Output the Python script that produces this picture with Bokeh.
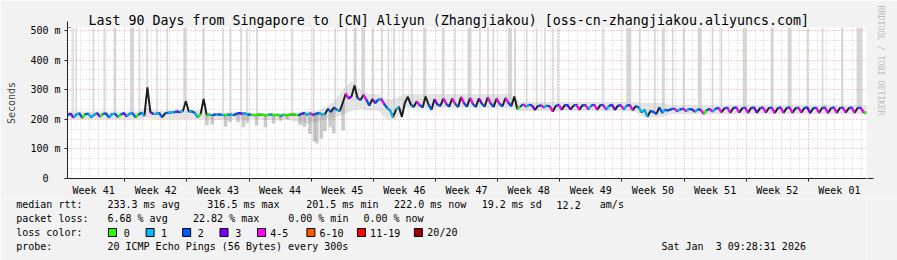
import numpy as np
from bokeh.plotting import figure
from bokeh.layouts import column
from bokeh.models import Range1d, FixedTicker, Arrow, NormalHead, Title
from bokeh.core.properties import value
from bokeh.embed import file_html
from bokeh.resources import INLINE

# ---------------- data ----------------
TITLE = "Last 90 Days from Singapore to [CN] Aliyun (Zhangjiakou) [oss-cn-zhangjiakou.aliyuncs.com]"
WATERMARK = "RRDTOOL / TOBI OETIKER"
DAYS = 90
SAMPLES_PER_DAY = 3
WEEK_LABELS = ["Week 41", "Week 42", "Week 43", "Week 44", "Week 45", "Week 46", "Week 47",
               "Week 48", "Week 49", "Week 50", "Week 51", "Week 52", "Week 01"]
FIRST_WEEK_START = 6.445  # days after the window start where week 42 begins
Y_TICKS = [0, 100, 200, 300, 400, 500]
Y_TICK_LABELS = ["0\u00a0\u00a0", "100 m", "200 m", "300 m", "400 m", "500 m"]

# median rtt in ms, one value every 8 hours (3 per day) from the window start
MEDIAN_MS = [
    214, 219, 206, 216, 220, 205, 217, 219, 207, 215, 221, 209, 218, 220, 206,
    217, 219, 208, 216, 221, 210, 219, 220, 207, 216, 222, 212, 308, 224, 218,
    219, 221, 207, 220, 222, 223, 224, 226, 224, 228, 261, 226, 227, 222, 207,
    218, 269, 216, 215, 214, 216, 216, 215, 214, 215, 216, 214, 218, 221, 219,
    220, 216, 215, 214, 215, 216, 215, 214, 215, 216, 214, 215, 211, 215, 214,
    215, 216, 215, 214, 218, 221, 216, 220, 215, 219, 221, 217, 218, 235, 225,
    240, 232, 228, 255, 286, 270, 278, 314, 272, 265, 282, 266, 246, 268, 255,
    266, 268, 252, 238, 230, 207, 232, 242, 208, 255, 276, 250, 242, 260, 248,
    240, 277, 250, 232, 268, 250, 245, 270, 252, 243, 270, 252, 242, 275, 254,
    243, 272, 252, 242, 270, 253, 243, 274, 254, 242, 270, 252, 244, 272, 255,
    245, 277, 235, 243, 250, 243, 249, 246, 232, 245, 247, 240, 246, 243, 226,
    245, 248, 232, 247, 248, 233, 246, 249, 232, 247, 248, 234, 246, 249, 232,
    247, 248, 233, 245, 249, 232, 246, 247, 234, 246, 248, 231, 244, 240, 224,
    232, 209, 228, 225, 218, 240, 222, 232, 230, 234, 236, 228, 233, 236, 228,
    235, 234, 226, 233, 232, 218, 230, 235, 226, 236, 238, 224, 237, 239, 222,
    238, 240, 223, 237, 239, 222, 238, 240, 222, 237, 240, 223, 238, 239, 221,
    237, 240, 222, 238, 240, 222, 237, 239, 223, 238, 240, 221, 237, 239, 222,
    238, 240, 221, 237, 240, 222, 238, 239, 223, 237, 240, 222, 238, 239, 224,
    222,
]

# loss colour class of each sample (index into LOSS_LABELS)
LOSS_CLASS = [
    2, 3, 1, 1, 2, 0, 2, 1, 1, 1, 3, 0, 2, 2, 1,
    1, 2, 0, 2, 3, 1, 1, 2, 0, 2, 1, 1, 2, 3, 1,
    1, 2, 0, 2, 1, 1, 2, 3, 1, 2, 4, 1, 2, 1, 0,
    1, 4, 0, 1, 2, 1, 2, 1, 0, 1, 1, 2, 2, 3, 1,
    1, 2, 0, 0, 0, 0, 0, 0, 1, 0, 0, 0, 1, 0, 0,
    0, 0, 0, 2, 3, 1, 1, 4, 2, 2, 1, 1, 1, 2, 1,
    2, 1, 0, 2, 4, 3, 2, 4, 2, 1, 4, 2, 1, 3, 2,
    1, 4, 2, 1, 1, 0, 1, 2, 1, 2, 4, 2, 1, 4, 2,
    1, 4, 2, 1, 3, 2, 1, 4, 2, 0, 4, 2, 1, 4, 2,
    1, 4, 2, 1, 3, 2, 1, 4, 2, 1, 4, 2, 0, 4, 2,
    1, 4, 0, 2, 4, 1, 2, 3, 0, 2, 4, 1, 2, 4, 1,
    2, 4, 1, 2, 3, 1, 2, 4, 1, 2, 4, 1, 2, 4, 0,
    2, 4, 1, 2, 3, 1, 2, 4, 1, 2, 4, 1, 2, 1, 1,
    1, 1, 2, 2, 0, 2, 1, 2, 2, 2, 4, 1, 2, 4, 1,
    2, 3, 1, 2, 4, 0, 2, 4, 1, 2, 4, 1, 2, 4, 0,
    2, 4, 1, 2, 4, 1, 2, 3, 0, 2, 4, 1, 2, 4, 1,
    2, 4, 0, 2, 4, 1, 2, 4, 1, 2, 3, 0, 2, 4, 1,
    2, 4, 1, 2, 4, 0, 2, 4, 1, 2, 4, 1, 2, 4, 0,
    1,
]

# smoke (spread of the 20 pings) per day, ms
SMOKE_DAY = list(range(91))
SMOKE_LO = [
    200, 200, 200, 200, 200, 200, 200, 200, 200, 205, 200, 200, 200, 200, 200,
    200, 200, 198, 200, 202, 200, 203, 200, 198, 200, 198, 190, 185, 190, 200,
    205, 215, 230, 235, 230, 230, 200, 200, 238, 238, 238, 238, 238, 238, 238,
    238, 238, 238, 238, 238, 238, 228, 228, 228, 228, 228, 228, 228, 228, 228,
    228, 228, 228, 228, 225, 205, 205, 208, 218, 218, 218, 218, 218, 218, 218,
    218, 218, 218, 218, 218, 218, 218, 218, 218, 218, 218, 218, 218, 218, 218,
    218,
]
SMOKE_HI = [
    226, 226, 226, 226, 226, 226, 226, 226, 226, 240, 228, 228, 232, 235, 230,
    232, 222, 222, 222, 226, 224, 222, 220, 222, 220, 222, 225, 228, 228, 240,
    260, 300, 330, 300, 285, 285, 265, 270, 285, 285, 285, 285, 285, 285, 285,
    285, 285, 285, 285, 285, 285, 258, 258, 258, 258, 258, 258, 258, 258, 258,
    258, 258, 258, 258, 258, 255, 255, 255, 248, 248, 248, 248, 248, 248, 248,
    248, 248, 248, 248, 248, 248, 248, 248, 248, 248, 248, 248, 248, 248, 248,
    248,
]

# fast-ping streaks below the median (day, lowest ms) in weeks 43-45
STREAK_DAYS = [15.7, 16.3, 17.8, 18.3, 19.2, 19.8, 20.25, 21.3, 22.3, 23.2, 24.0, 24.75,
               26.2, 26.7, 27.3, 27.8, 28.1, 28.6, 29.0, 29.6, 30.0, 31.05]
STREAK_LOW = [179, 182, 175, 190, 190, 173, 186, 179, 173, 186, 195, 200,
              180, 175, 150, 125, 118, 135, 160, 173, 152, 162]

# times (days) where the slowest pings reached the top of the graph, and their duration (days)
SPIKE_DAYS = [0.64, 0.98, 2.92, 4.16, 5.34, 7.26, 8.10, 8.97, 10.09, 11.22, 13.22, 15.30,
              17.52, 18.34, 19.57, 20.22, 21.34, 25.28, 27.71, 30.15, 31.39, 32.40, 33.30,
              34.37, 35.40, 36.15, 36.79, 37.80, 38.78, 40.22, 42.30, 43.65, 45.28, 46.46,
              47.36, 47.96, 49.84, 50.40, 51.72, 52.84, 53.78, 54.68, 55.24, 60.30, 63.22,
              64.46, 66.15, 67.11, 68.17, 69.41, 71.21, 72.67, 73.65, 76.27, 79.37, 81.34,
              83.36, 85.05, 87.24, 89.21]
SPIKE_WIDTH = [0.17, 0.17, 0.17, 0.22, 0.28, 0.45, 0.2, 0.2, 0.17, 0.17, 0.34, 0.22,
               0.17, 0.17, 0.17, 0.17, 0.17, 0.17, 0.2, 0.17, 0.22, 0.34, 0.4,
               0.22, 0.17, 0.17, 0.2, 0.17, 0.2, 0.34, 0.28, 0.17, 0.45, 0.17,
               0.17, 0.17, 0.45, 0.2, 0.17, 0.17, 0.17, 0.17, 0.17, 0.17, 0.56,
               0.2, 0.2, 0.34, 0.17, 0.22, 0.45, 0.17, 0.2, 0.45, 0.34, 0.45,
               0.2, 0.17, 0.22, 0.67]

LOSS_LABELS = ["0", "1", "2", "3", "4-5", "6-10", "11-19", "20/20"]
LOSS_COLORS = ["#26ff00", "#00b8ff", "#0059ff", "#7e00ff", "#ff00ff", "#ff5500", "#ff0000", "#a10000"]

RTT_AVG, RTT_MAX, RTT_MIN, RTT_NOW, RTT_SD, RTT_AMS = 233.3, 316.5, 201.5, 222.0, 19.2, 12.2
LOSS_AVG, LOSS_MAX, LOSS_MIN, LOSS_NOW = 6.68, 22.82, 0.00, 0.00
PROBE = "20 ICMP Echo Pings (56 Bytes) every 300s"
STAMP = "Sat Jan  3 09:28:31 2026"
ROW_NAMES = ["median rtt:", "packet loss:", "loss color:", "probe:"]

# ---------------- layout ----------------
W, H = 897, 260
PLOT_H = 198
LEFT, RIGHT, TOP, BOTTOM = 67, 30, 27, 20
Y_MAX = 510
FRAME_W = W - LEFT - RIGHT
FRAME_H = PLOT_H - TOP - BOTTOM
XPX = FRAME_W / DAYS
YPX = FRAME_H / Y_MAX
AXIS_Y = PLOT_H - BOTTOM
MONO = "DejaVu Sans Mono"
CHAR_W = 6.02           # advance of DejaVu Sans Mono at 10px
TEXT_X0 = 16            # left edge of the legend text block
BACK = "#F2F2F2"
NBSP = "\u00a0"


def sy(y):
    return (AXIS_Y - y) / YPX


p = figure(width=W, height=PLOT_H, x_range=Range1d(0, DAYS), y_range=Range1d(0, Y_MAX),
           output_backend="svg", toolbar_location=None,
           min_border_left=LEFT, min_border_right=RIGHT, min_border_top=TOP, min_border_bottom=BOTTOM,
           background_fill_color="white", border_fill_color=BACK, outline_line_color=None)
p.title = Title(text=TITLE, align="left", offset=88 - LEFT, standoff=0, text_font=MONO,
                text_font_size="13.3px", text_font_style="normal", text_color="black")
p.add_layout(Title(text=WATERMARK, align="left", standoff=19, offset=-22, text_font=MONO,
                   text_font_size="8.3px", text_font_style="normal", text_color="#BDBDBD"), "right")

week_bounds = [FIRST_WEEK_START + 7 * k for k in range(12)]
week_centers = [FIRST_WEEK_START - 3.5 + 7 * k for k in range(len(WEEK_LABELS))]
day_lines = [FIRST_WEEK_START - 6 + k for k in range(DAYS) if (k % 7) != 6]
h_minor = [100 * k / 3 for k in range(1, 16) if k % 3 != 0]

# grids
xg = p.xgrid[0]
xg.ticker = FixedTicker(ticks=week_bounds, minor_ticks=day_lines)
yg = p.ygrid[0]
yg.ticker = FixedTicker(ticks=Y_TICKS, minor_ticks=h_minor)
for g in (xg, yg):
    g.grid_line_color = "#F09A9A"
    g.grid_line_dash = "1 2"
    g.minor_grid_line_color = "#CFCFCF"
    g.minor_grid_line_dash = "1 2"

# axes
xa = p.xaxis[0]
xa.ticker = FixedTicker(ticks=week_centers, minor_ticks=week_bounds)
xa.major_label_overrides = {c: lab for c, lab in zip(week_centers, WEEK_LABELS)}
xa.major_tick_out = 0
xa.major_tick_in = 0
xa.minor_tick_out = 3
xa.minor_tick_in = 0
xa.minor_tick_line_color = "#222222"
xa.major_label_standoff = 3
ya = p.yaxis[0]
ya.ticker = FixedTicker(ticks=Y_TICKS)
ya.major_label_overrides = {t: lab for t, lab in zip(Y_TICKS, Y_TICK_LABELS)}
ya.major_tick_out = 3
ya.major_tick_in = 0
ya.major_label_standoff = 4
ya.axis_label = "Seconds"
ya.axis_label_text_font = MONO
ya.axis_label_text_font_size = "10px"
ya.axis_label_text_font_style = "normal"
ya.axis_label_standoff = 10
for ax in (xa, ya):
    ax.axis_line_color = "#222222"
    ax.major_tick_line_color = "#222222"
    ax.major_label_text_font = MONO
    ax.major_label_text_font_size = "10px"
    ax.major_label_text_color = "black"

# smoke
p.varea(x=SMOKE_DAY, y1=SMOKE_LO, y2=SMOKE_HI, fill_color="#a8a8a8", fill_alpha=0.3)

t = np.arange(len(MEDIAN_MS)) / SAMPLES_PER_DAY
med = np.array(MEDIAN_MS, dtype=float)

# darker smoke streaks below the median
streak_top = np.interp(STREAK_DAYS, t, med)
p.vbar(x=STREAK_DAYS, width=0.4, bottom=STREAK_LOW, top=streak_top,
       fill_color="#7a7a7a", fill_alpha=0.38, line_color=None)

# slow pings reaching the top
spike_bottom = np.interp(SPIKE_DAYS, t, med)
p.vbar(x=SPIKE_DAYS, width=SPIKE_WIDTH, bottom=spike_bottom, top=Y_MAX,
       fill_color="#c6c6c6", fill_alpha=0.7, line_color=None)

# median line: dark underneath, loss-coloured on top
p.line(t, med, line_color="#1e1e1e", line_width=2)
dy = np.diff(med)
keep = ~((dy > 12) | (np.abs(dy) > 25))
cls = np.array(LOSS_CLASS[:-1])
seg_colors = [LOSS_COLORS[c] for c in cls[keep]]
p.segment(x0=t[:-1][keep], y0=med[:-1][keep], x1=t[1:][keep], y1=med[1:][keep],
          line_color=seg_colors, line_width=2)

# arrows at the axis ends
p.add_layout(Arrow(end=NormalHead(size=6, fill_color="#7F3131", line_color="#7F3131"),
                   x_start=0, y_start=Y_MAX - 5, x_end=0, y_end=sy(21),
                   line_color="#222222", line_width=1))
p.add_layout(Arrow(end=NormalHead(size=6, fill_color="#7F3131", line_color="#7F3131"),
                   x_start=DAYS - 0.2, y_start=0, x_end=(874 - LEFT) / XPX, y_end=0,
                   line_color="#222222", line_width=1))

# ---------------- statistics / legend strip (pixel coordinates) ----------------
LEG_H = H - PLOT_H
ROW_Y = [204, 218, 232, 246]
q = figure(width=W, height=LEG_H, x_range=Range1d(LEFT, W - RIGHT), y_range=Range1d(H, PLOT_H),
           output_backend="svg", toolbar_location=None, x_axis_location=None, y_axis_location="left",
           min_border_left=LEFT, min_border_right=RIGHT, min_border_top=0, min_border_bottom=0,
           background_fill_color=BACK, border_fill_color=BACK, outline_line_color=None)
q.grid.visible = False
qa = q.yaxis[0]
qa.ticker = FixedTicker(ticks=ROW_Y)
width_chars = max(len(s) for s in ROW_NAMES)
qa.major_label_overrides = {y: (s + NBSP * (width_chars - len(s))).replace(" ", NBSP)
                            for y, s in zip(ROW_Y, ROW_NAMES)}
qa.axis_line_color = None
qa.major_tick_line_color = None
qa.minor_tick_line_color = None
qa.major_tick_out = 0
qa.major_tick_in = 0
qa.major_label_standoff = int(round(LEFT - (TEXT_X0 + width_chars * CHAR_W)))
qa.major_label_text_font = MONO
qa.major_label_text_font_size = "10px"
qa.major_label_text_color = "black"

lab_x = [123.3, 160.7, 197.3, 235, 270, 319.3, 370, 427.3]
box_x = [108, 145.7, 182.3, 219.7, 257.3, 306.7, 357.3, 414.3]
parts = [
    (f"{RTT_AVG:.1f} ms avg", 107, ROW_Y[0]), (f"{RTT_MAX:.1f} ms max", 207, ROW_Y[0]),
    (f"{RTT_MIN:.1f} ms min", 306, ROW_Y[0]), (f"{RTT_NOW:.1f} ms now", 394, ROW_Y[0]),
    (f"{RTT_SD:.1f} ms sd", 481.7, ROW_Y[0]), (f"{RTT_AMS:.1f}", 556.7, ROW_Y[0]), ("am/s", 600, ROW_Y[0]),
    (f"{LOSS_AVG:.2f} % avg", 107, ROW_Y[1]), (f"{LOSS_MAX:.2f} % max", 192.7, ROW_Y[1]),
    (f"{LOSS_MIN:.2f} % min", 288, ROW_Y[1]), (f"{LOSS_NOW:.2f} % now", 363.3, ROW_Y[1]),
    (PROBE, 107, ROW_Y[3]), (STAMP.replace(" ", NBSP), 661.7, ROW_Y[3]),
] + [(lab, x, ROW_Y[2]) for lab, x in zip(LOSS_LABELS, lab_x)]
q.text(x=[a[1] for a in parts], y=[a[2] for a in parts], text=[a[0] for a in parts],
       text_font=value(MONO), text_font_size=value("10px"),
       text_baseline="middle", text_align="left", text_color="black")
q.quad(left=box_x, right=[b + 8 for b in box_x], top=[ROW_Y[2] - 4] * len(box_x),
       bottom=[ROW_Y[2] + 4] * len(box_x), fill_color=LOSS_COLORS, line_color="black", line_width=1)

layout = column(p, q, spacing=0)
open("out.html", "w").write(file_html(layout, INLINE))
